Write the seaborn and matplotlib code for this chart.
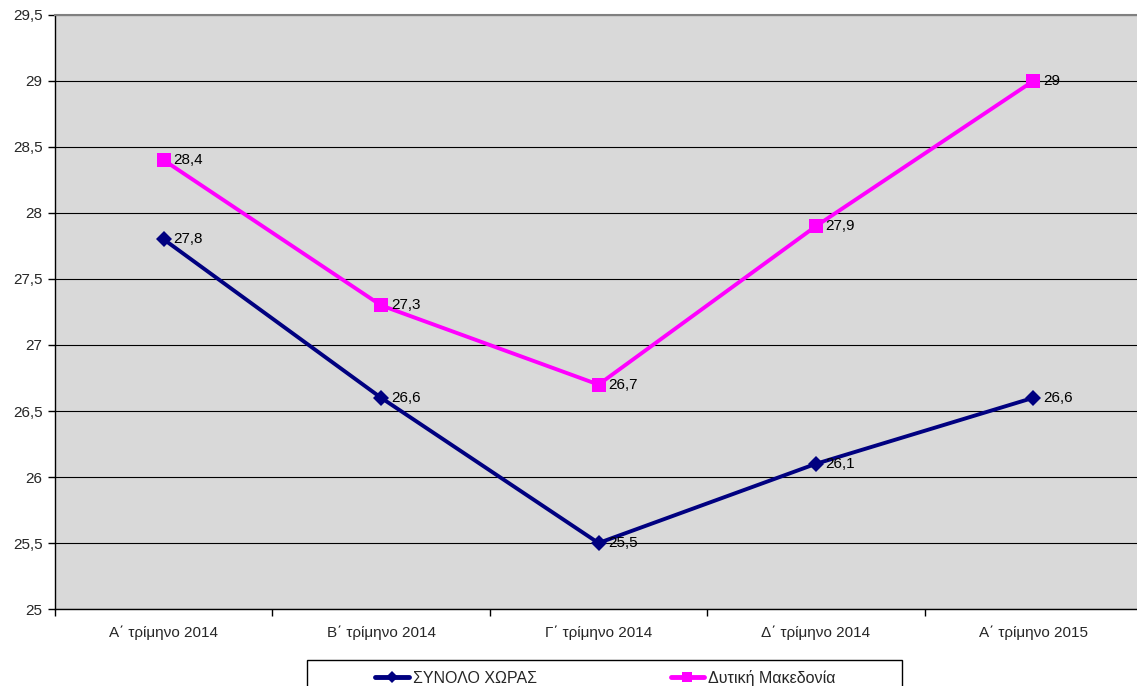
import pandas as pd
import matplotlib.pyplot as plt
import seaborn as sns
from matplotlib.patches import Rectangle

# dados do gráfico
trimina = ['Α΄ τρίμηνο 2014', 'Β΄ τρίμηνο 2014', 'Γ΄ τρίμηνο 2014',
           'Δ΄ τρίμηνο 2014', 'Α΄ τρίμηνο 2015']
synolo = [27.8, 26.6, 25.5, 26.1, 26.6]
dyt_mak = [28.4, 27.3, 26.7, 27.9, 29.0]
y_ticks = [25, 25.5, 26, 26.5, 27, 27.5, 28, 28.5, 29, 29.5]

sns.set_theme(style='white')
plt.rcParams['font.family'] = ['Liberation Sans', 'DejaVu Sans']

df = pd.DataFrame({'pos': list(range(len(trimina))) * 2,
                   'valor': synolo + dyt_mak,
                   'serie': ['ΣΥΝΟΛΟ ΧΩΡΑΣ'] * len(synolo) + ['Δυτική Μακεδονία'] * len(dyt_mak)})

fig = plt.figure(figsize=(11.37, 6.86), dpi=100)
ax = fig.add_axes([0.0484, 0.1122, 0.956, 0.866])
ax.set_facecolor('#d9d9d9')

cores = {'ΣΥΝΟΛΟ ΧΩΡΑΣ': '#000080', 'Δυτική Μακεδονία': '#ff00ff'}
marcas = {'ΣΥΝΟΛΟ ΧΩΡΑΣ': 'D', 'Δυτική Μακεδονία': 's'}
tamanhos = {'ΣΥΝΟΛΟ ΧΩΡΑΣ': 8.5, 'Δυτική Μακεδονία': 10.5}

for s in ['ΣΥΝΟΛΟ ΧΩΡΑΣ', 'Δυτική Μακεδονία']:
    d = df[df.serie == s]
    sns.lineplot(data=d, x='pos', y='valor', ax=ax, color=cores[s], lw=2.8,
                 marker=marcas[s], markersize=tamanhos[s], markeredgewidth=0,
                 label=s, zorder=3)
    for x, y in zip(d.pos, d.valor):
        txt = f'{y:g}'.replace('.', ',')
        ax.annotate(txt, (x, y), xytext=(7, 0), textcoords='offset points',
                    va='center', ha='left', fontsize=11, color='black', zorder=4)

ax.set_xlim(-0.5, len(trimina) - 0.5)
ax.set_ylim(25, 29.5)
ax.set_yticks(y_ticks)
ax.set_yticklabels([f'{t:g}'.replace('.', ',') for t in y_ticks], fontsize=11)
ax.set_xticks(range(len(trimina)))
ax.set_xticklabels(trimina, fontsize=11)
ax.set_xticks([i + 0.5 for i in range(-1, len(trimina))], minor=True)
ax.tick_params(axis='x', which='major', length=0, pad=12)
ax.tick_params(axis='x', which='minor', length=5, width=1, color='black', direction='out', bottom=True)
ax.tick_params(axis='y', length=5, width=1, color='black', direction='out', left=True, pad=4)
ax.set_xlabel('')
ax.set_ylabel('')
ax.yaxis.grid(True, color='black', lw=0.8)
ax.set_axisbelow(True)

for lado in ['left', 'bottom']:
    ax.spines[lado].set_color('black')
    ax.spines[lado].set_linewidth(1)
ax.spines['top'].set_color('#808080')
ax.spines['top'].set_linewidth(1.5)
ax.spines['right'].set_visible(False)

ax.legend_.remove()
h, l = ax.get_legend_handles_labels()
leg = fig.legend(h, l, ncol=2, loc='center left', bbox_to_anchor=(375 / 1137, 1 - 678 / 686),
                 frameon=False, fontsize=11.5, columnspacing=8.4, handlelength=2.1,
                 handletextpad=0.25, borderpad=0, borderaxespad=0, markerscale=0.7)
for hl in leg.legend_handles:
    hl.set_linewidth(3.5)

# moldura da legenda (cortada na parte de baixo, como no original)
fig.patches.append(Rectangle((307 / 1137, -0.05), 595 / 1137, 0.05 + 26 / 686,
                             transform=fig.transFigure, fill=False, edgecolor='black',
                             lw=1, clip_on=False))

fig.savefig('out.png', dpi=100)
